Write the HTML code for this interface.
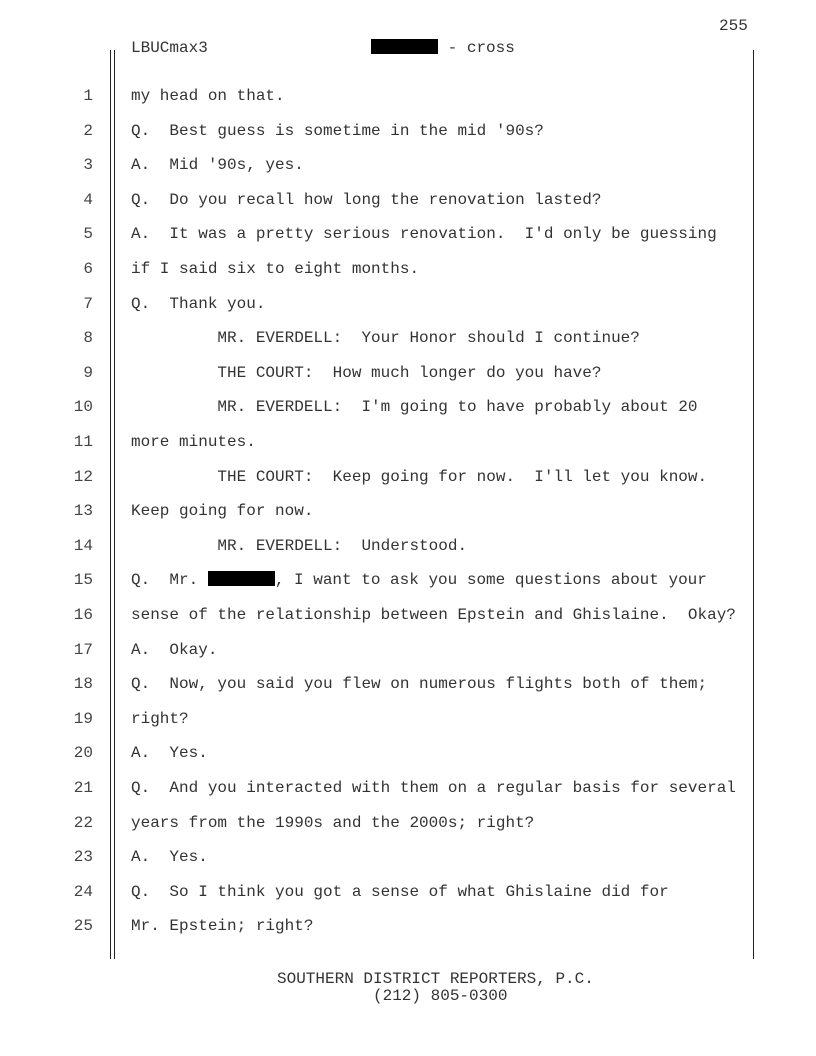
<!DOCTYPE html>
<html><head><meta charset="utf-8"><style>
body{margin:0;width:816px;height:1056px;background:#fff;position:relative;overflow:hidden;font-family:"Liberation Mono",monospace;font-size:16px;color:#333}
.l{position:absolute;left:131px;white-space:pre;line-height:18px}
.n{position:absolute;width:93px;left:0;text-align:right;line-height:18px;color:#444}
.v{position:absolute;background:#222;width:1px}
.r{display:inline-block;background:#000;height:15px;vertical-align:-2px}
</style></head><body>
<div class="v" style="left:110px;top:50px;height:909px"></div>
<div class="v" style="left:114px;top:50px;height:909px"></div>
<div class="v" style="left:753px;top:50px;height:909px"></div>
<div class="l" style="left:719px;top:17px">255</div>
<div class="l" style="top:39px">LBUCmax3                 <span class="r" style="width:67px"></span> - cross</div>
<div id="c"></div>
<div class="l" style="left:277px;top:970px">SOUTHERN DISTRICT REPORTERS, P.C.</div>
<div class="l" style="left:373px;top:987px">(212) 805-0300</div>
<script>
var L=["my head on that.","Q.  Best guess is sometime in the mid '90s?","A.  Mid '90s, yes.","Q.  Do you recall how long the renovation lasted?","A.  It was a pretty serious renovation.  I'd only be guessing","if I said six to eight months.","Q.  Thank you.","         MR. EVERDELL:  Your Honor should I continue?","         THE COURT:  How much longer do you have?","         MR. EVERDELL:  I'm going to have probably about 20","more minutes.","         THE COURT:  Keep going for now.  I'll let you know.","Keep going for now.","         MR. EVERDELL:  Understood.","Q.  Mr. @, I want to ask you some questions about your","sense of the relationship between Epstein and Ghislaine.  Okay?","A.  Okay.","Q.  Now, you said you flew on numerous flights both of them;","right?","A.  Yes.","Q.  And you interacted with them on a regular basis for several","years from the 1990s and the 2000s; right?","A.  Yes.","Q.  So I think you got a sense of what Ghislaine did for","Mr. Epstein; right?"];
var h="";
for(var i=0;i<25;i++){var t=87+34.6*i;
var s=L[i].replace(/&/g,"&amp;").replace(/</g,"&lt;").replace("@",'<span class="r" style="width:67px"></span>');
h+='<div class="n" style="top:'+t+'px">'+(i+1)+'</div><div class="l" style="top:'+t+'px">'+s+'</div>';}
document.getElementById("c").innerHTML=h;
</script>
</body></html>
